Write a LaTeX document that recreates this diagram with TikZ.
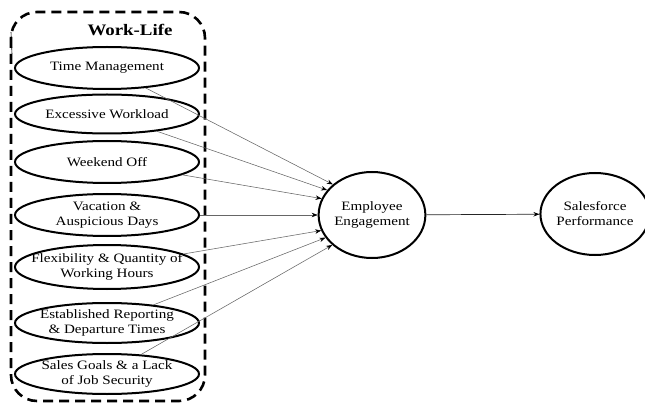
\documentclass[tikz,border=0pt]{standalone}
\usepackage{fontspec}
\setmainfont{Liberation Serif}[FakeStretch=1.18]
\usetikzlibrary{shapes.geometric,arrows.meta}
\begin{document}
\begin{tikzpicture}[x=1pt,y=-1pt,
  labfont/.style={font=\fontsize{12.8}{15}\selectfont,align=center,text=black},
  factor/.style={ellipse,draw=black,line width=2pt,minimum width=184pt,minimum height=42pt,inner sep=0pt},
  bigell/.style={ellipse,draw=black,line width=2pt,inner sep=0pt,align=center,font=\fontsize{12.8}{15}\selectfont},
  conn/.style={draw=black!60,line width=0.55pt,-{Stealth[color=black,length=6pt,width=4.5pt]}},
  mainconn/.style={draw=black!85,line width=0.7pt,-{Stealth[color=black,length=6pt,width=4.5pt]}},
  groupbox/.style={draw=black,line width=2.6pt,dash pattern=on 10pt off 6pt,rounded corners=26pt}]
\useasboundingbox (0,0) rectangle (645,406);
\draw[groupbox] (11,12) rectangle (205,401);
\draw[line width=0.6pt] (11,32) -- (12,54);
\node[font=\bfseries\fontsize{16}{18}\selectfont] (title) at (130,30) {Work-Life};
\node[factor,label={[labfont]center:Time Management}] (tm) at (107,68) {};
\node[factor,minimum height=39pt,label={[labfont]center:Excessive Workload}] (ew) at (107,114) {};
\node[factor,label={[labfont]center:Weekend Off}] (wo) at (107,162) {};
\node[factor,label={[labfont]center:Vacation \&\\Auspicious Days}] (va) at (107,215) {};
\node[factor,minimum height=44pt,label={[labfont]center:Flexibility \& Quantity of\\Working Hours}] (fq) at (107,267) {};
\node[factor,minimum height=40pt,label={[labfont]center:Established Reporting\\\& Departure Times}] (er) at (107,323) {};
\node[factor,minimum height=40pt,label={[labfont]center:Sales Goals \& a Lack\\of Job Security}] (sg) at (107,374) {};
\node[bigell,minimum width=102pt,minimum height=86pt] (ee) at (372,215) {Employee\\Engagement};
\node[bigell,minimum width=96pt,minimum height=82pt] (sp) at (595,214) {Salesforce\\Performance};
\draw[conn] (tm) -- (ee.142);
\draw[conn] (ew) -- (ee.151);
\draw[conn] (wo) -- (ee.162);
\draw[conn] (va) -- (ee.180);
\draw[conn] (fq) -- (ee.197);
\draw[conn] (er) -- (ee.206);
\draw[conn] (sg) -- (ee.217);
\draw[mainconn] (ee) -- (sp);
\end{tikzpicture}
\end{document}
